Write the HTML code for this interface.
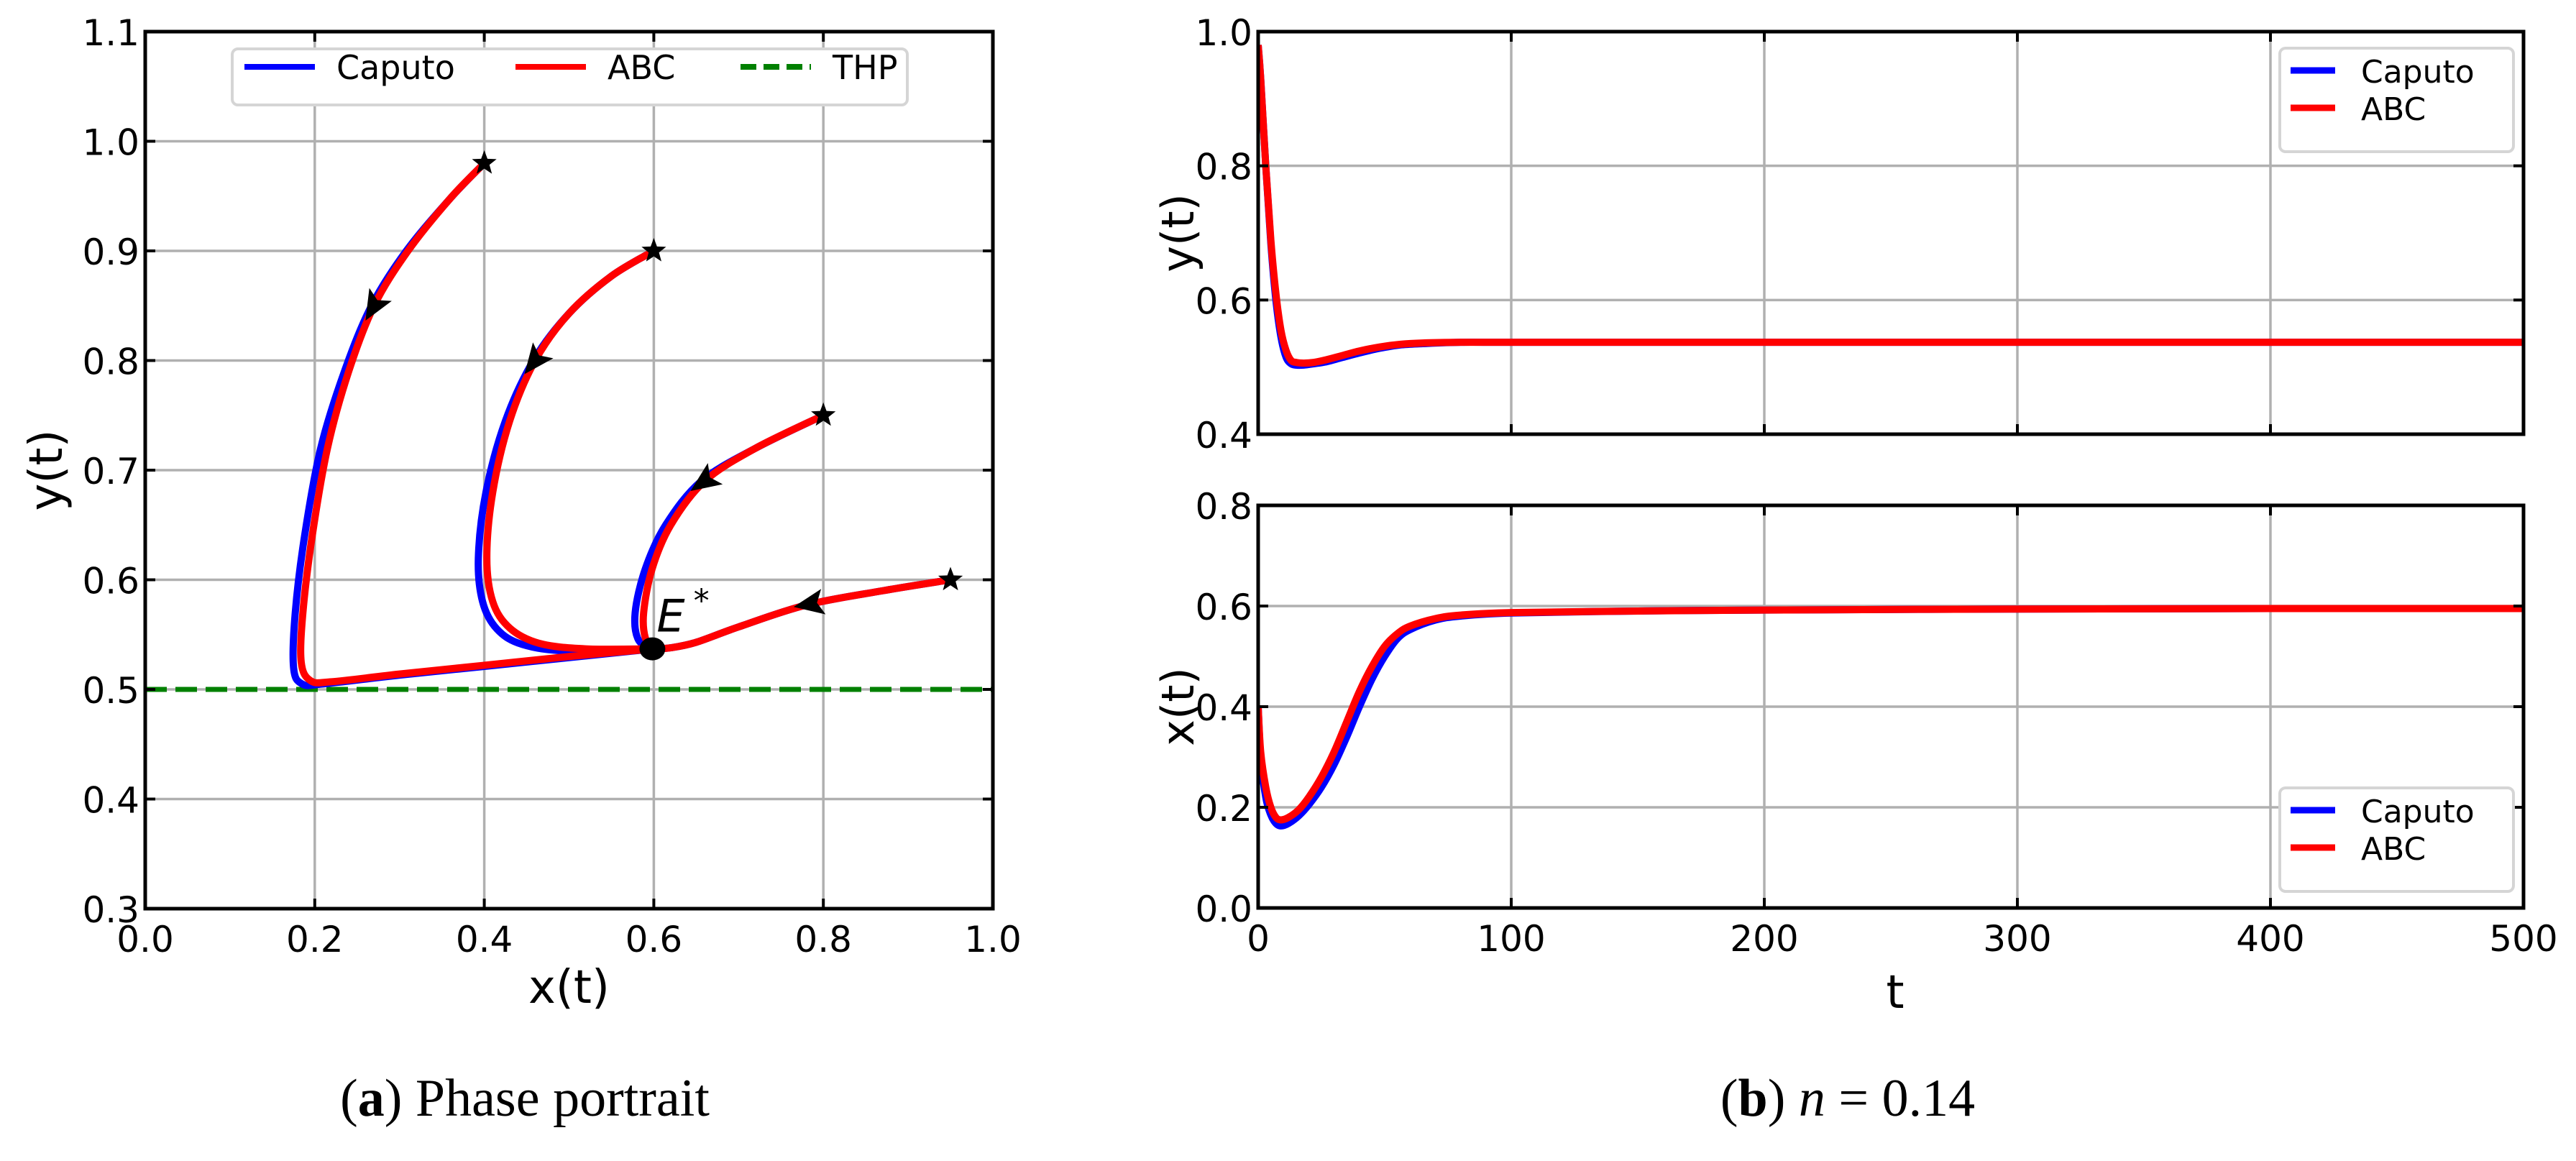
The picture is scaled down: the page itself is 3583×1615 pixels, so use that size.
<!DOCTYPE html>
<html><head><meta charset="utf-8"><style>
html,body{margin:0;padding:0;background:#fff;}
svg{display:block;}
text{font-family:"DejaVu Sans","Liberation Sans",sans-serif;}
.serif{font-family:"Liberation Serif","DejaVu Serif",serif;}
</style></head><body>
<svg id="fig" width="3583" height="1615" viewBox="0 0 3583 1615" xmlns="http://www.w3.org/2000/svg"></svg>
<script>
// ---------- DATA ----------
const abcCurve1 = [[0.4,0.98],[0.36,0.948],[0.31,0.9],[0.27,0.85],[0.24,0.79],[0.215,0.72],[0.197,0.64],[0.186,0.57],[0.184,0.525],[0.195,0.508],[0.22,0.507],[0.3,0.514],[0.4,0.522],[0.5,0.530],[0.6,0.537]];
const capCurve1 = [[0.4,0.98],[0.36,0.948],[0.308,0.9],[0.267,0.85],[0.235,0.79],[0.207,0.72],[0.188,0.64],[0.177,0.57],[0.175,0.52],[0.185,0.505],[0.21,0.505],[0.3,0.513],[0.4,0.521],[0.5,0.529],[0.6,0.537]];
const abcCurve2 = [[0.6,0.9],[0.55,0.877],[0.5,0.843],[0.46,0.80],[0.43,0.745],[0.41,0.68],[0.403,0.62],[0.41,0.58],[0.43,0.556],[0.465,0.542],[0.52,0.537],[0.6,0.537]];
const capCurve2 = [[0.6,0.9],[0.55,0.877],[0.5,0.843],[0.458,0.80],[0.425,0.745],[0.402,0.68],[0.393,0.62],[0.398,0.58],[0.415,0.555],[0.445,0.541],[0.5,0.535],[0.6,0.537]];
const abcCurve3 = [[0.8,0.75],[0.72,0.72],[0.66,0.69],[0.62,0.65],[0.598,0.61],[0.588,0.57],[0.59,0.547],[0.6,0.537]];
const capCurve3 = [[0.8,0.75],[0.72,0.72],[0.656,0.69],[0.614,0.65],[0.59,0.61],[0.578,0.57],[0.582,0.545],[0.6,0.537]];
const abcCurve4 = [[0.95,0.6],[0.87,0.59],[0.78,0.577],[0.7,0.557],[0.65,0.543],[0.62,0.538],[0.6,0.537]];
const capCurve4 = abcCurve4;
const startX = [0.4,0.6,0.8,0.95];
const startY = [0.98,0.9,0.75,0.6];
const arrowX = [0.27,0.46,0.66,0.785];
const arrowY = [0.85,0.80,0.69,0.578];
const arrowAng = [-120,-128,-145,-170];
const eqX = 0.6, eqY = 0.537, thp = 0.5;
const xTicksA = [0.0,0.2,0.4,0.6,0.8,1.0];
const yTicksA = [0.3,0.4,0.5,0.6,0.7,0.8,0.9,1.0,1.1];
const tY = [0,1,3,5,7,9,11,13,15,18,22,27,33,40,48,56,65,80,100,200,300,400,500];
const yABC = [0.98,0.93,0.80,0.69,0.61,0.555,0.525,0.51,0.507,0.506,0.507,0.511,0.517,0.524,0.530,0.534,0.536,0.537,0.537,0.537,0.537,0.537,0.537];
const yCap = [0.98,0.93,0.80,0.685,0.60,0.545,0.515,0.505,0.503,0.503,0.505,0.508,0.514,0.521,0.528,0.533,0.535,0.537,0.537,0.537,0.537,0.537,0.537];
const tX = [0,1,3,5,7,9,12,16,20,25,30,35,40,45,50,55,60,70,80,100,150,200,300,400,500];
const xABC = [0.40,0.31,0.24,0.20,0.18,0.175,0.18,0.195,0.22,0.26,0.31,0.37,0.43,0.48,0.52,0.545,0.56,0.575,0.582,0.587,0.590,0.592,0.594,0.595,0.595];
const xCap = [0.40,0.30,0.22,0.185,0.168,0.163,0.168,0.183,0.205,0.24,0.285,0.34,0.40,0.455,0.50,0.535,0.553,0.572,0.580,0.586,0.590,0.592,0.594,0.595,0.595];
const tTicks = [0,100,200,300,400,500];
const yTicksTop = [0.4,0.6,0.8,1.0];
const yTicksBot = [0.0,0.2,0.4,0.6,0.8];

// ---------- DRAW ----------
const NS='http://www.w3.org/2000/svg';
const svg=document.getElementById('fig');
function mk(tag,attrs,parent){const e=document.createElementNS(NS,tag);for(const k in attrs)e.setAttribute(k,attrs[k]);(parent||svg).appendChild(e);return e;}
function lin(d0,d1,r0,r1){return v=>r0+(v-d0)/(d1-d0)*(r1-r0);}

function axesFrame(g,L,T,R,B,xs,ys,xt,yt,name){
  xt.forEach(v=>{const l=mk('line',{x1:xs(v),x2:xs(v),y1:T,y2:B,stroke:'#b0b0b0','stroke-width':3.5},g);
    });
  yt.forEach(v=>{const l=mk('line',{x1:L,x2:R,y1:ys(v),y2:ys(v),stroke:'#b0b0b0','stroke-width':3.5},g);
    });
}
function axesTop(g,L,T,R,B,xs,ys,xt,yt,fmtX,fmtY,showX,fs,name){
  const f=mk('rect',{x:L,y:T,width:R-L,height:B-T,fill:'none',stroke:'#000','stroke-width':5},g);
  
  xt.forEach(v=>{const x=xs(v);
    mk('line',{x1:x,x2:x,y1:B,y2:B-14,stroke:'#000','stroke-width':4},g);
    mk('line',{x1:x,x2:x,y1:T,y2:T+14,stroke:'#000','stroke-width':4},g);
    if(showX){const t=mk('text',{x:x,y:B+60,'font-size':fs,'text-anchor':'middle'},g);t.textContent=fmtX(v);
      }});
  yt.forEach(v=>{const y=ys(v);
    mk('line',{x1:L,x2:L+14,y1:y,y2:y,stroke:'#000','stroke-width':4},g);
    mk('line',{x1:R,x2:R-14,y1:y,y2:y,stroke:'#000','stroke-width':4},g);
    const t=mk('text',{x:L-8,y:y+19,'font-size':fs,'text-anchor':'end'},g);t.textContent=fmtY(v);
    });
}
function curvePath(pts,xs,ys){
  const P=pts.map(p=>[xs(p[0]),ys(p[1])]);let d='M'+P[0][0]+' '+P[0][1];
  for(let i=0;i<P.length-1;i++){const p0=P[i-1]||P[i],p1=P[i],p2=P[i+1],p3=P[i+2]||P[i+1];
    d+=' C'+(p1[0]+(p2[0]-p0[0])/6)+' '+(p1[1]+(p2[1]-p0[1])/6)+' '+(p2[0]-(p3[0]-p1[0])/6)+' '+(p2[1]-(p3[1]-p1[1])/6)+' '+p2[0]+' '+p2[1];}
  return d;}
function starPath(cx,cy,r){let d='';for(let i=0;i<10;i++){const a=-Math.PI/2+i*Math.PI/5,rr=i%2?r*0.42:r;d+=(i?'L':'M')+(cx+rr*Math.cos(a)).toFixed(1)+' '+(cy+rr*Math.sin(a)).toFixed(1);}return d+'Z';}

// ===== Panel (a) =====
const gA=mk('g',{});
const aL=202,aR=1381,aT=44,aB=1264;
const xa=lin(0,1,aL,aR), ya=lin(0.3,1.1,aB,aT);
axesFrame(gA,aL,aT,aR,aB,xa,ya,xTicksA,yTicksA,'phase');
const thpLine=mk('line',{x1:aL,x2:aR,y1:ya(thp),y2:ya(thp),stroke:'#008000','stroke-width':7,'stroke-dasharray':'30 12'},gA);

[capCurve1,capCurve2,capCurve3,capCurve4].forEach((c,i)=>{const p=mk('path',{d:curvePath(c,xa,ya),fill:'none',stroke:'#0000ff','stroke-width':10,'stroke-linejoin':'round'},gA);
  });
[abcCurve1,abcCurve2,abcCurve3,abcCurve4].forEach((c,i)=>{const p=mk('path',{d:curvePath(c,xa,ya),fill:'none',stroke:'#ff0000','stroke-width':10,'stroke-linejoin':'round'},gA);
  });
arrowX.forEach((x,i)=>{const cx=xa(x),cy=ya(arrowY[i]);
  const a=mk('path',{d:'M24 0 L-18 -18 L-9 0 L-18 18 Z',fill:'#000',transform:'translate('+cx+' '+cy+') rotate('+(-arrowAng[i])+')'},gA);
  });
startX.forEach((x,i)=>{const s=mk('path',{d:starPath(xa(x),ya(startY[i]),18),fill:'#000'},gA);
  });
const eq=mk('ellipse',{cx:xa(eqX)-2,cy:ya(eqY),rx:18,ry:16,fill:'#000'},gA);
const eqT=mk('text',{x:xa(eqX)+4,y:ya(eqY)-24,'font-size':62,'font-style':'italic'},gA);eqT.innerHTML='E<tspan dx="12" dy="-28" font-size="44" font-style="normal">*</tspan>';

axesTop(gA,aL,aT,aR,aB,xa,ya,xTicksA,yTicksA,v=>v.toFixed(1),v=>v.toFixed(1),true,50,'phase');
const xlA=mk('text',{x:(aL+aR)/2,y:1395,'font-size':64,'text-anchor':'middle'},gA);xlA.textContent='x(t)';
const ylA=mk('text',{x:0,y:0,'font-size':64,'text-anchor':'middle',transform:'translate(86 '+((aT+aB)/2)+') rotate(-90)'},gA);ylA.textContent='y(t)';
const lgA=mk('g',{});gA.appendChild(lgA);
mk('rect',{x:323,y:68,width:939,height:78,rx:8,fill:'#fff',stroke:'#d5d5d5','stroke-width':4},lgA);
[['Caputo','#0000ff',340,'none'],['ABC','#ff0000',717,'none'],['THP','#008000',1030,'22 10']].forEach(e=>{
  const ln=mk('line',{x1:e[2],x2:e[2]+98,y1:93,y2:93,stroke:e[1],'stroke-width':8,'stroke-dasharray':e[3]},lgA);
  
  const t=mk('text',{x:e[2]+128,y:110,'font-size':46},lgA);t.textContent=e[0];});
const capA=mk('text',{x:730,y:1552,'font-size':74,'text-anchor':'middle',class:'serif'},gA);capA.innerHTML='(<tspan font-weight="bold">a</tspan>) Phase portrait';


// ===== Panel (b) =====
const gB=mk('g',{});
const bL=1750,bR=3510;
const tb=lin(0,500,bL,bR);
function panel(T,B,y0,y1,yt,tArr,cap,abc,showX,name,legY){
  const g=mk('g',{},gB);
  const ys=lin(y0,y1,B,T);
  axesFrame(g,bL,T,bR,B,tb,ys,tTicks,yt,name);
  const clip=mk('clipPath',{id:'c'+name},g);mk('rect',{x:bL,y:T,width:bR-bL,height:B-T},clip);
  const pc=mk('path',{d:curvePath(tArr.map((t,i)=>[t,cap[i]]),tb,ys),fill:'none',stroke:'#0000ff','stroke-width':10,'clip-path':'url(#c'+name+')'},g);
  
  const pa=mk('path',{d:curvePath(tArr.map((t,i)=>[t,abc[i]]),tb,ys),fill:'none',stroke:'#ff0000','stroke-width':10,'clip-path':'url(#c'+name+')'},g);
  
  axesTop(g,bL,T,bR,B,tb,ys,tTicks,yt,v=>String(v),v=>v.toFixed(1),showX,50,name);
  const lg=mk('g',{},g);
  mk('rect',{x:3171,y:legY,width:325,height:144,rx:8,fill:'#fff',stroke:'#d5d5d5','stroke-width':4},lg);
  [['Caputo','#0000ff',0],['ABC','#ff0000',52]].forEach(e=>{
    const ln=mk('line',{x1:3186,x2:3248,y1:legY+31+e[2],y2:legY+31+e[2],stroke:e[1],'stroke-width':9},lg);
    
    const t=mk('text',{x:3284,y:legY+48+e[2],'font-size':44},lg);t.textContent=e[0];
    });
  return g;}
panel(44,604,0.4,1.0,yTicksTop,tY,yCap,yABC,false,'y-panel',67);
panel(703,1263,0.0,0.8,yTicksBot,tX,xCap,xABC,true,'x-panel',1096);
const ylT=mk('text',{x:0,y:0,'font-size':62,'text-anchor':'middle',transform:'translate(1660 324) rotate(-90)'},gB);ylT.textContent='y(t)';
const ylB=mk('text',{x:0,y:0,'font-size':62,'text-anchor':'middle',transform:'translate(1660 983) rotate(-90)'},gB);ylB.textContent='x(t)';
const tl=mk('text',{x:2636,y:1402,'font-size':64,'text-anchor':'middle'},gB);tl.textContent='t';
const capB=mk('text',{x:2570,y:1552,'font-size':74,'text-anchor':'middle',class:'serif'},gB);capB.innerHTML='(<tspan font-weight="bold">b</tspan>) <tspan font-style="italic">n</tspan> = 0.14';

</script>
</body></html>
